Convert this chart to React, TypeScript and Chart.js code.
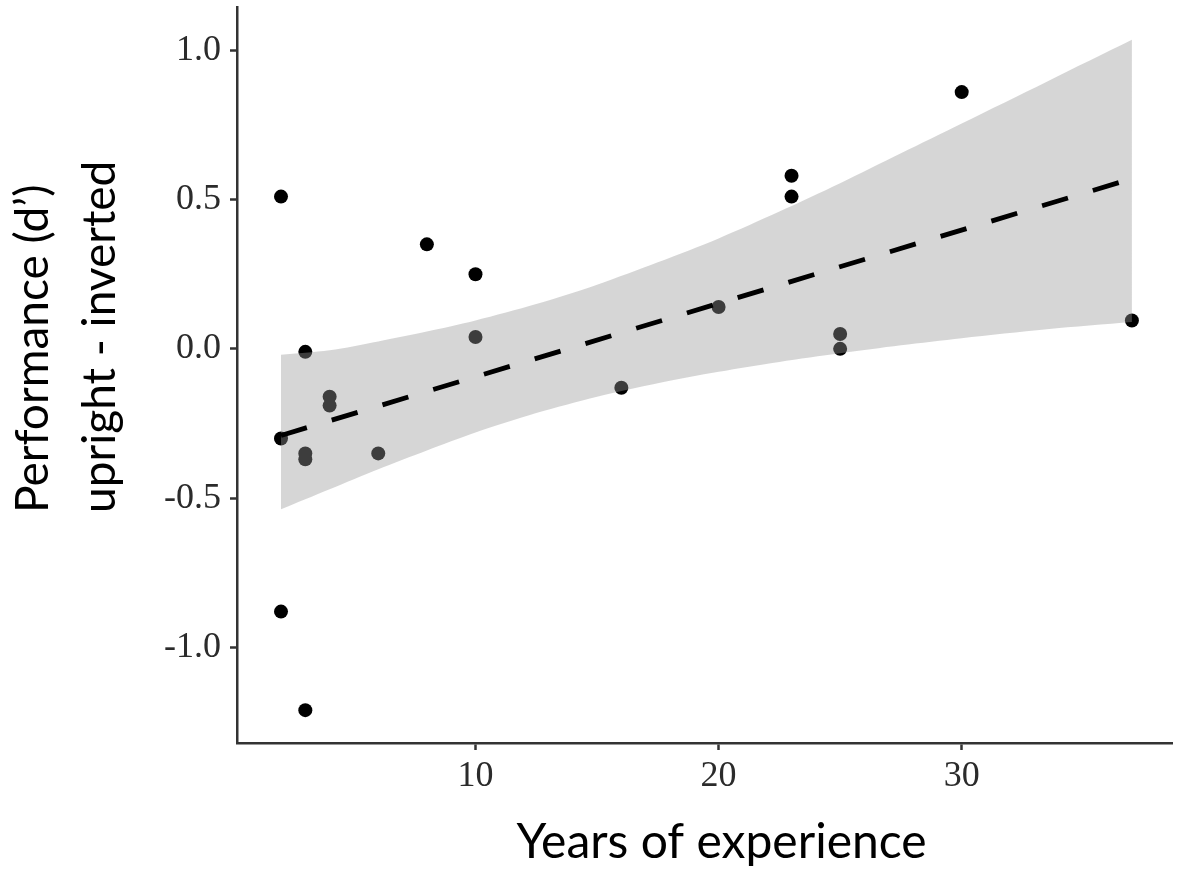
import React, { useEffect, useRef } from 'react';
import { Chart, registerables } from 'chart.js';

Chart.register(...registerables);

// Observed data (years of experience vs. d' upright - inverted)
const experienceYears = [2, 2, 2, 3, 3, 3, 3, 4, 4, 6, 8, 10, 10, 16, 20, 23, 23, 25, 25, 30, 37];
const performanceDiff = [0.51, -0.30, -0.88, -1.21, -0.01, -0.35, -0.37, -0.16, -0.19, -0.35, 0.35, 0.25, 0.04, -0.13, 0.14, 0.58, 0.51, 0.05, 0.0, 0.86, 0.095];

// Linear fit (dashed line)
const fitX = [2, 37];
const fitY = [-0.29, 0.57];

// Confidence band
const bandX = [2, 4, 6, 8, 10, 12.5, 15, 17.5, 20, 22.5, 25, 27.5, 30, 33.5, 37];
const bandUpper = [-0.02, -0.005, 0.025, 0.058, 0.095, 0.15, 0.215, 0.29, 0.37, 0.46, 0.555, 0.655, 0.755, 0.895, 1.035];
const bandLower = [-0.537, -0.47, -0.403, -0.34, -0.28, -0.215, -0.16, -0.115, -0.077, -0.044, -0.015, 0.012, 0.036, 0.066, 0.09];

// Tick labels
const xTicks = [10, 20, 30];
const yTicks = [-1.0, -0.5, 0.0, 0.5, 1.0];

const xTitle = 'Years of experience';
const yTitle = ['Performance (d\u2019)', 'upright - inverted'];

const titleFont = 'Lato, "Open Sans", sans-serif';

const axisTitlesPlugin = {
  id: 'axisTitles',
  afterDraw(chart: any) {
    const { ctx, chartArea } = chart;
    ctx.save();
    ctx.fillStyle = '#000000';
    // x title
    ctx.font = `48px ${titleFont}`;
    ctx.textAlign = 'center';
    ctx.textBaseline = 'middle';
    ctx.fillText(xTitle, (chartArea.left + chartArea.right) / 2 + 17, chartArea.bottom + 100);
    // y title (two lines, rotated, start-aligned at the bottom)
    ctx.font = `46px ${titleFont}`;
    ctx.textAlign = 'left';
    const startY = chartArea.bottom - 230;
    const lineX = [33, 100];
    yTitle.forEach((line, i) => {
      ctx.save();
      ctx.translate(lineX[i], startY);
      ctx.rotate(-Math.PI / 2);
      ctx.fillText(line, 0, 0);
      ctx.restore();
    });
    ctx.restore();
  },
};

export default function App() {
  const ref = useRef<HTMLCanvasElement | null>(null);

  useEffect(() => {
    if (!ref.current) return;
    const axisColor = '#333333';
    const tickFont = { family: '"Liberation Serif", "DejaVu Serif", serif', size: 36 };
    const chart = new Chart(ref.current, {
      type: 'scatter',
      data: {
        datasets: [
          {
            type: 'scatter',
            label: 'points',
            data: experienceYears.map((x, i) => ({ x, y: performanceDiff[i] })),
            backgroundColor: '#000000',
            borderWidth: 0,
            pointRadius: 7,
            order: 3,
          },
          {
            type: 'line',
            label: 'upper',
            data: bandX.map((x, i) => ({ x, y: bandUpper[i] })),
            borderWidth: 0,
            borderColor: 'rgba(0,0,0,0)',
            pointRadius: 0,
            tension: 0.3,
            fill: '+1',
            backgroundColor: 'rgba(153,153,153,0.4)',
            order: 2,
          },
          {
            type: 'line',
            label: 'lower',
            data: bandX.map((x, i) => ({ x, y: bandLower[i] })),
            borderWidth: 0,
            borderColor: 'rgba(0,0,0,0)',
            pointRadius: 0,
            tension: 0.3,
            fill: false,
            order: 2,
          },
          {
            type: 'line',
            label: 'fit',
            data: fitX.map((x, i) => ({ x, y: fitY[i] })),
            borderColor: '#000000',
            borderWidth: 4.8,
            borderDash: [27, 26],
            borderCapStyle: 'butt',
            pointRadius: 0,
            fill: false,
            order: 1,
          },
        ],
      },
      options: {
        responsive: false,
        devicePixelRatio: 1,
        animation: false,
        layout: { padding: { top: 5, right: 9, left: 0, bottom: 0 } },
        plugins: {
          legend: { display: false },
          tooltip: { enabled: false },
        },
        scales: {
          x: {
            type: 'linear',
            min: 0.19,
            max: 38.65,
            afterBuildTicks: (scale: any) => {
              scale.ticks = xTicks.map((v) => ({ value: v }));
            },
            afterFit: (scale: any) => {
              scale.height = 128;
              scale.paddingLeft = 0;
              scale.paddingRight = 0;
            },
            grid: {
              drawOnChartArea: false,
              drawTicks: true,
              tickLength: 7,
              tickWidth: 2.5,
              tickColor: axisColor,
            },
            border: { display: true, color: axisColor, width: 2.5 },
            ticks: {
              font: tickFont,
              color: '#2b2b2b',
              padding: 5,
              maxRotation: 0,
              autoSkip: false,
              callback: (v: any) => String(v),
            },
          },
          y: {
            type: 'linear',
            min: -1.32,
            max: 1.145,
            afterBuildTicks: (scale: any) => {
              scale.ticks = yTicks.map((v) => ({ value: v }));
            },
            afterFit: (scale: any) => {
              scale.width = 237;
              scale.paddingTop = 0;
              scale.paddingBottom = 0;
            },
            grid: {
              drawOnChartArea: false,
              drawTicks: true,
              tickLength: 7,
              tickWidth: 2.5,
              tickColor: axisColor,
            },
            border: { display: true, color: axisColor, width: 2.5 },
            ticks: {
              font: tickFont,
              color: '#2b2b2b',
              padding: 9,
              autoSkip: false,
              callback: (v: any) => Number(v).toFixed(1),
            },
          },
        },
      },
      plugins: [axisTitlesPlugin],
    } as any);
    return () => chart.destroy();
  }, []);

  return (
    <div style={{ position: 'absolute', left: 0, top: 0, width: 1181, height: 871, background: '#ffffff' }}>
      <canvas ref={ref} width={1181} height={871} style={{ display: 'block' }} />
    </div>
  );
}
